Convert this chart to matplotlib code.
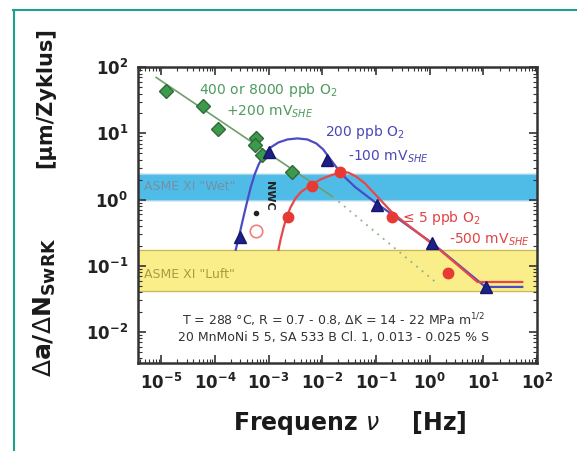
import matplotlib
matplotlib.use("Agg")
import matplotlib.pyplot as plt
from matplotlib.lines import Line2D
from matplotlib.ticker import LogLocator, NullFormatter

# 400 or 8000 ppb O2, +200 mV_SHE
green_f = [1.23e-5, 6.0e-5, 1.15e-4, 5.8e-4, 5.5e-4, 7.5e-4, 2.75e-3]
green_v = [43, 26, 11.5, 8.4, 6.6, 4.8, 2.6]
green_line_f = [8.1e-6, 1.58e-2]
green_line_v = [70, 1.1]
green_dot_f = [1.58e-2, 1.35]
green_dot_v = [1.1, 0.055]

# 200 ppb O2, -100 mV_SHE
blue_f = [3.0e-4, 1.0e-3, 1.23e-2, 0.105, 1.1, 11]
blue_v = [0.275, 5.3, 4.0, 0.84, 0.22, 0.048]
blue_curve_f = [2.45e-4, 2.78e-4, 3.16e-4, 3.6e-4, 4.08e-4, 4.64e-4, 5.5e-4,
                6.53e-4, 8.07e-4, 1.09e-3, 1.53e-3, 2.25e-3, 3.44e-3, 5.27e-3,
                7.74e-3, 1.04e-2, 1.35e-2, 1.82e-2, 2.67e-2, 4.08e-2, 0.104,
                1.09, 10.9, 52.7]
blue_curve_v = [0.175, 0.265, 0.418, 0.658, 1.0, 1.52, 2.39, 3.39, 4.64,
                6.14, 7.31, 8.11, 8.4, 8.11, 7.05, 5.73, 4.3, 3.1, 2.15,
                1.55, 0.87, 0.223, 0.048, 0.048]

# <= 5 ppb O2, -500 mV_SHE
red_f = [2.3e-3, 6.5e-3, 2.1e-2, 0.2, 2.2]
red_v = [0.55, 1.6, 2.6, 0.55, 0.079]
red_curve_f = [1.53e-3, 1.67e-3, 1.9e-3, 2.15e-3, 2.55e-3, 3.16e-3, 4.08e-3,
               6.0e-3, 9.18e-3, 1.41e-2, 2.15e-2, 3.03e-2, 4.26e-2, 6.26e-2,
               0.207, 1.53, 7.74, 52.7]
red_curve_v = [0.175, 0.248, 0.377, 0.533, 0.757, 1.04, 1.32, 1.63, 2.01,
               2.31, 2.57, 2.57, 2.23, 1.75, 0.62, 0.175, 0.057, 0.057]

# ASME XI reference bands
wet_band = (1.0, 2.4)
air_band = (0.041, 0.175)

fig = plt.figure(figsize=(5.77, 4.51), dpi=100)
ax = fig.add_axes([0.239, 0.195, 0.692, 0.656])
ax.set_xscale("log")
ax.set_yscale("log")
ax.set_xlim(3.7e-6, 100)
ax.set_ylim(3.4e-3, 100)

ax.axhspan(*wet_band, color="#4fbce8", zorder=0)
ax.axhline(wet_band[0], color="#9ed3ea", lw=0.8, zorder=0)
ax.axhline(wet_band[1], color="#9ed3ea", lw=0.8, zorder=0)
ax.axhspan(*air_band, color="#f9ee8a", zorder=0)
ax.axhline(air_band[0], color="#c8b860", lw=0.9, zorder=0)
ax.axhline(air_band[1], color="#c8b860", lw=0.9, zorder=0)

ax.plot(green_line_f, green_line_v, color="#6f9f6a", lw=1.2, zorder=2)
ax.plot(green_dot_f, green_dot_v, color="#8fb08a", lw=1.3, ls=(0, (1, 3)), zorder=2)
ax.plot(blue_curve_f, blue_curve_v, color="#4b4cc4", lw=1.6, zorder=3)
ax.plot(red_curve_f, red_curve_v, color="#e6484a", lw=1.6, zorder=3)

ax.plot(green_f, green_v, ls="none", marker="D", ms=7, color="#3d9a4c",
        mec="#2d6a38", zorder=4)
ax.plot(blue_f, blue_v, ls="none", marker="^", ms=8, color="#1f1f88",
        mec="#15156a", zorder=4)
ax.plot(red_f, red_v, ls="none", marker="o", ms=7.5, color="#e83a34",
        mec="#e83a34", zorder=4)

# single points marked below the NWC label
ax.plot([5.8e-4], [0.635], ls="none", marker="o", ms=3, color="#222222", zorder=4)
ax.plot([5.8e-4], [0.33], ls="none", marker="o", ms=9, mfc="none",
        mec="#f08080", mew=1.2, zorder=4)

ax.text(1.0e-3, 46, r"400 or 8000 ppb O$_2$", color="#4f9a5e", fontsize=10,
        ha="center", va="center")
ax.text(1.05e-3, 21, r"+200 mV$_{SHE}$", color="#4f9a5e", fontsize=10,
        ha="center", va="center")
ax.text(0.063, 10.4, r"200 ppb O$_2$", color="#4a48b4", fontsize=10,
        ha="center", va="center")
ax.text(0.166, 4.5, r"-100 mV$_{SHE}$", color="#4a48b4", fontsize=10,
        ha="center", va="center")
ax.text(1.65, 0.53, r"≤ 5 ppb O$_2$", color="#e04444", fontsize=10,
        ha="center", va="center")
ax.text(12.9, 0.25, r"-500 mV$_{SHE}$", color="#e04444", fontsize=10,
        ha="center", va="center")
ax.text(4.8e-6, 1.58, 'ASME XI "Wet"', color="#7590a4", fontsize=9,
        ha="left", va="center")
ax.text(4.8e-6, 0.073, 'ASME XI "Luft"', color="#a89c40", fontsize=9,
        ha="left", va="center")
ax.text(1.0e-3, 1.15, "NWC", color="#222222", fontsize=8, fontweight="bold",
        rotation=270, ha="center", va="center")
ax.text(0.49, 0.12,
        r"T = 288 °C, R = 0.7 - 0.8, $\Delta$K = 14 - 22 MPa m$^{1/2}$"
        "\n20 MnMoNi 5 5, SA 533 B Cl. 1, 0.013 - 0.025 % S",
        transform=ax.transAxes, fontsize=9, color="#333333",
        ha="center", va="center", linespacing=1.25)

xt = [1e-5, 1e-4, 1e-3, 1e-2, 1e-1, 1, 10, 100]
xl = [r"$\mathbf{10^{-5}}$", r"$\mathbf{10^{-4}}$", r"$\mathbf{10^{-3}}$",
      r"$\mathbf{10^{-2}}$", r"$\mathbf{10^{-1}}$", r"$\mathbf{10^{0}}$",
      r"$\mathbf{10^{1}}$", r"$\mathbf{10^{2}}$"]
yt = [1e-2, 1e-1, 1, 10, 100]
yl = [r"$\mathbf{10^{-2}}$", r"$\mathbf{10^{-1}}$", r"$\mathbf{10^{0}}$",
      r"$\mathbf{10^{1}}$", r"$\mathbf{10^{2}}$"]
ax.set_xticks(xt)
ax.set_xticklabels(xl, fontsize=12)
ax.set_yticks(yt)
ax.set_yticklabels(yl, fontsize=12)
for axis in (ax.xaxis, ax.yaxis):
    axis.set_minor_locator(LogLocator(base=10, subs=range(2, 10), numticks=20))
    axis.set_minor_formatter(NullFormatter())
ax.tick_params(which="both", direction="in", top=True, right=True,
               colors="#333333", labelcolor="#222222")
ax.tick_params(which="major", length=6, width=1.2, pad=7)
ax.tick_params(which="minor", length=3, width=0.8)
for s in ax.spines.values():
    s.set_linewidth(1.8)
    s.set_color("#333333")

# axis titles
fig.text(0.607, 0.062, r"Frequenz $\nu$    [Hz]", fontsize=17,
         fontweight="bold", ha="center", va="center", color="#1a1a1a")
fig.text(0.078, 0.783, "[µm/Zyklus]", fontsize=15, fontweight="bold",
         rotation=90, ha="center", va="center", color="#1a1a1a")
fig.text(0.078, 0.319, r"$\Delta$a/$\Delta$N$_{\mathbf{SwRK}}$", fontsize=18,
         fontweight="bold", rotation=90, ha="center", va="center",
         color="#1a1a1a")

# teal page frame
fig.add_artist(Line2D([13 / 577, 1], [1 - 10 / 451, 1 - 10 / 451],
                      color="#1ea08e", lw=1.5))
fig.add_artist(Line2D([14 / 577, 14 / 577], [0, 1 - 10 / 451],
                      color="#1ea08e", lw=1.5))

fig.savefig("out.png", dpi=100)
